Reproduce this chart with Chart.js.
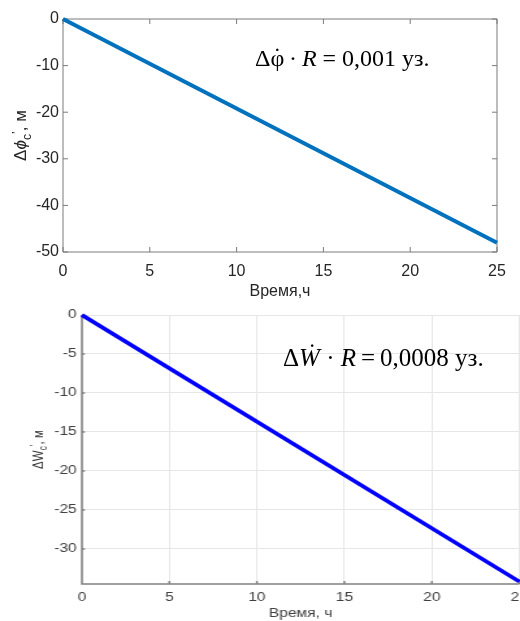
<!DOCTYPE html>
<html>
<head>
<meta charset="utf-8">
<script src="https://cdn.jsdelivr.net/npm/chart.js@4.4.1/dist/chart.umd.min.js"></script>
<style>
  html, body { margin: 0; padding: 0; background: #fff; }
  body { position: relative; width: 520px; height: 621px; overflow: hidden; }
  #topChart { position: absolute; left: 0; top: 0; }
  #bottomWrap { position: absolute; left: 0; top: 300px; width: 400px; height: 321px;
                transform: scaleX(1.3); transform-origin: 0 0; }
  .note { position: absolute; z-index: 2; white-space: nowrap; line-height: 1; color: #000;
          font-family: "Liberation Serif", "Times New Roman", serif; }
  .dotted { position: relative; display: inline-block; }
  .dotted > span { position: absolute; left: 50%; top: -0.1em; transform: translateX(-50%); }
</style>
</head>
<body>
<canvas id="topChart" width="520" height="300"></canvas>
<div id="bottomWrap"><canvas id="bottomChart" width="400" height="321"></canvas></div>
<div class="note" style="left:255px; top:46px; font-size:24px;">Δ<span class="dotted">φ<span>˙</span></span>&thinsp;·&thinsp;<i>R</i> = 0,001 уз.</div>
<div class="note" style="left:283px; top:345px; font-size:25px;">Δ<i>Ẇ</i> · <i>R</i>&thinsp;=&thinsp;0,0008 уз.</div>

<script>
// ---- данные (читаны с картинки) ----
const timeTop = [0, 25];
const dPhiTop = [0, -48];
const xTicksTop = [0, 5, 10, 15, 20, 25];
const yTicksTop = [0, -10, -20, -30, -40, -50];

const timeBottom = [0, 25];
const dWBottom = [0, -34.2];
const xTicksBottom = [0, 5, 10, 15, 20, 25];
const yTicksBottom = [0, -5, -10, -15, -20, -25, -30];

// ---- рамка и тики внутрь, как в MATLAB ----
const axesBox = {
  id: 'axesBox',
  beforeDatasetsDraw(chart, args, o) {
    const { ctx, chartArea: a, scales: { x, y } } = chart;
    ctx.save();
    ctx.strokeStyle = o.color;
    ctx.lineWidth = o.lineWidth;
    ctx.beginPath();
    // оси
    ctx.moveTo(a.left, a.top); ctx.lineTo(a.left, a.bottom); ctx.lineTo(a.right, a.bottom);
    if (o.box) { ctx.lineTo(a.right, a.top); ctx.lineTo(a.left, a.top); }
    // тики
    x.ticks.forEach(t => {
      const px = x.getPixelForValue(t.value);
      ctx.moveTo(px, a.bottom); ctx.lineTo(px, a.bottom - o.tickLen);
      if (o.box) { ctx.moveTo(px, a.top); ctx.lineTo(px, a.top + o.tickLen); }
    });
    y.ticks.forEach(t => {
      const py = y.getPixelForValue(t.value);
      ctx.moveTo(a.left, py); ctx.lineTo(a.left + o.tickLenY, py);
      if (o.box) { ctx.moveTo(a.right, py); ctx.lineTo(a.right - o.tickLenY, py); }
    });
    ctx.stroke();
    ctx.restore();
  }
};

// ---- подпись оси Y с индексом ----
const yTitle = {
  id: 'yTitle',
  afterDraw(chart, args, o) {
    const { ctx, chartArea: a } = chart;
    const fontFor = p => `${p.italic ? 'italic ' : ''}${p.sub || p.sup ? o.size * 0.72 : o.size}px ${o.family}`;
    ctx.save();
    ctx.translate(o.x, (a.top + a.bottom) / 2);
    ctx.rotate(-Math.PI / 2);
    ctx.fillStyle = o.color;
    ctx.textBaseline = 'alphabetic';
    let total = 0;
    o.parts.forEach(p => { ctx.font = fontFor(p); total += ctx.measureText(p.t).width; });
    let cx = -total / 2;
    o.parts.forEach(p => {
      ctx.font = fontFor(p);
      const dy = p.sub ? o.size * 0.3 : p.sup ? -o.size * 0.3 : 0;
      ctx.fillText(p.t, cx, o.size * 0.35 + dy);
      cx += ctx.measureText(p.t).width;
    });
    ctx.restore();
  }
};

function fixWidth(w) { return s => { s.width = w; s.paddingTop = 0; s.paddingBottom = 0; }; }
function fixHeight(h) { return s => { s.height = h; s.paddingLeft = 0; s.paddingRight = 0; }; }

const sans = 'Arial, "Liberation Sans", sans-serif';

// ---- верхний график ----
new Chart(document.getElementById('topChart'), {
  type: 'line',
  data: {
    datasets: [{
      data: timeTop.map((t, i) => ({ x: t, y: dPhiTop[i] })),
      borderColor: 'rgb(0, 114, 189)',
      borderWidth: 4,
      pointRadius: 0,
      tension: 0,
      clip: false
    }]
  },
  options: {
    responsive: false,
    animation: false,
    layout: { padding: { left: 0, right: 23, top: 19, bottom: 0 } },
    plugins: {
      legend: { display: false },
      tooltip: { enabled: false },
      axesBox: { color: '#7a7a7a', lineWidth: 1, tickLen: 5, tickLenY: 5, box: true },
      yTitle: {
        x: 20, size: 17, color: '#262626', family: sans,
        parts: [{ t: 'Δ' }, { t: 'ϕ', italic: true }, { t: 'c', sub: true }, { t: '\u2019', sup: true }, { t: ', м' }]
      }
    },
    scales: {
      x: {
        type: 'linear', min: 0, max: 25,
        afterBuildTicks: s => { s.ticks = xTicksTop.map(v => ({ value: v })); },
        afterFit: fixHeight(48),
        grid: { display: false, drawTicks: false },
        border: { display: false },
        ticks: { color: '#262626', font: { family: sans, size: 16 }, padding: 10, maxRotation: 0, callback: v => String(v) },
        title: { display: true, text: 'Время,ч', color: '#262626', font: { family: sans, size: 16, lineHeight: 1 }, padding: 0 }
      },
      y: {
        type: 'linear', min: -50, max: 0,
        afterBuildTicks: s => { s.ticks = yTicksTop.map(v => ({ value: v })); },
        afterFit: fixWidth(63),
        grid: { display: false, drawTicks: false },
        border: { display: false },
        ticks: { color: '#262626', font: { family: sans, size: 16 }, padding: 4, callback: v => String(v) }
      }
    }
  },
  plugins: [axesBox, yTitle]
});

// ---- нижний график (растянут по горизонтали, как на исходнике) ----
new Chart(document.getElementById('bottomChart'), {
  type: 'line',
  data: {
    datasets: [{
      data: timeBottom.map((t, i) => ({ x: t, y: dWBottom[i] })),
      borderColor: '#0000ff',
      borderWidth: 3.6,
      pointRadius: 0,
      tension: 0,
      clip: false
    }]
  },
  options: {
    responsive: false,
    animation: false,
    layout: { padding: { left: 0, right: 0.5, top: 15, bottom: 0 } },
    plugins: {
      legend: { display: false },
      tooltip: { enabled: false },
      axesBox: { color: '#808080', lineWidth: 1.5, tickLen: 3, tickLenY: 2.3, box: false },
      yTitle: {
        x: 28.5, size: 11.5, color: '#333', family: sans,
        parts: [{ t: 'ΔW' }, { t: 'c', sub: true }, { t: '\u2019', sup: true }, { t: ', м' }]
      }
    },
    scales: {
      x: {
        type: 'linear', min: 0, max: 25,
        afterBuildTicks: s => { s.ticks = xTicksBottom.map(v => ({ value: v })); },
        afterFit: fixHeight(37),
        grid: { display: true, color: '#e6e6e6', lineWidth: 1, drawTicks: false },
        border: { display: false },
        ticks: { color: '#404040', font: { family: sans, size: 12 }, padding: 6, maxRotation: 0, callback: v => String(v) },
        title: { display: true, text: 'Время, ч', color: '#404040', font: { family: sans, size: 12, lineHeight: 1 }, padding: { top: 0, bottom: 1 } }
      },
      y: {
        type: 'linear', min: -34.5, max: 0,
        afterBuildTicks: s => { s.ticks = yTicksBottom.map(v => ({ value: v })); },
        afterFit: fixWidth(63),
        grid: { display: true, color: '#e6e6e6', lineWidth: 1, drawTicks: false },
        border: { display: false },
        ticks: { color: '#404040', font: { family: sans, size: 12 }, padding: 4, callback: v => String(v) }
      }
    }
  },
  plugins: [axesBox, yTitle]
});
</script>
</body>
</html>
